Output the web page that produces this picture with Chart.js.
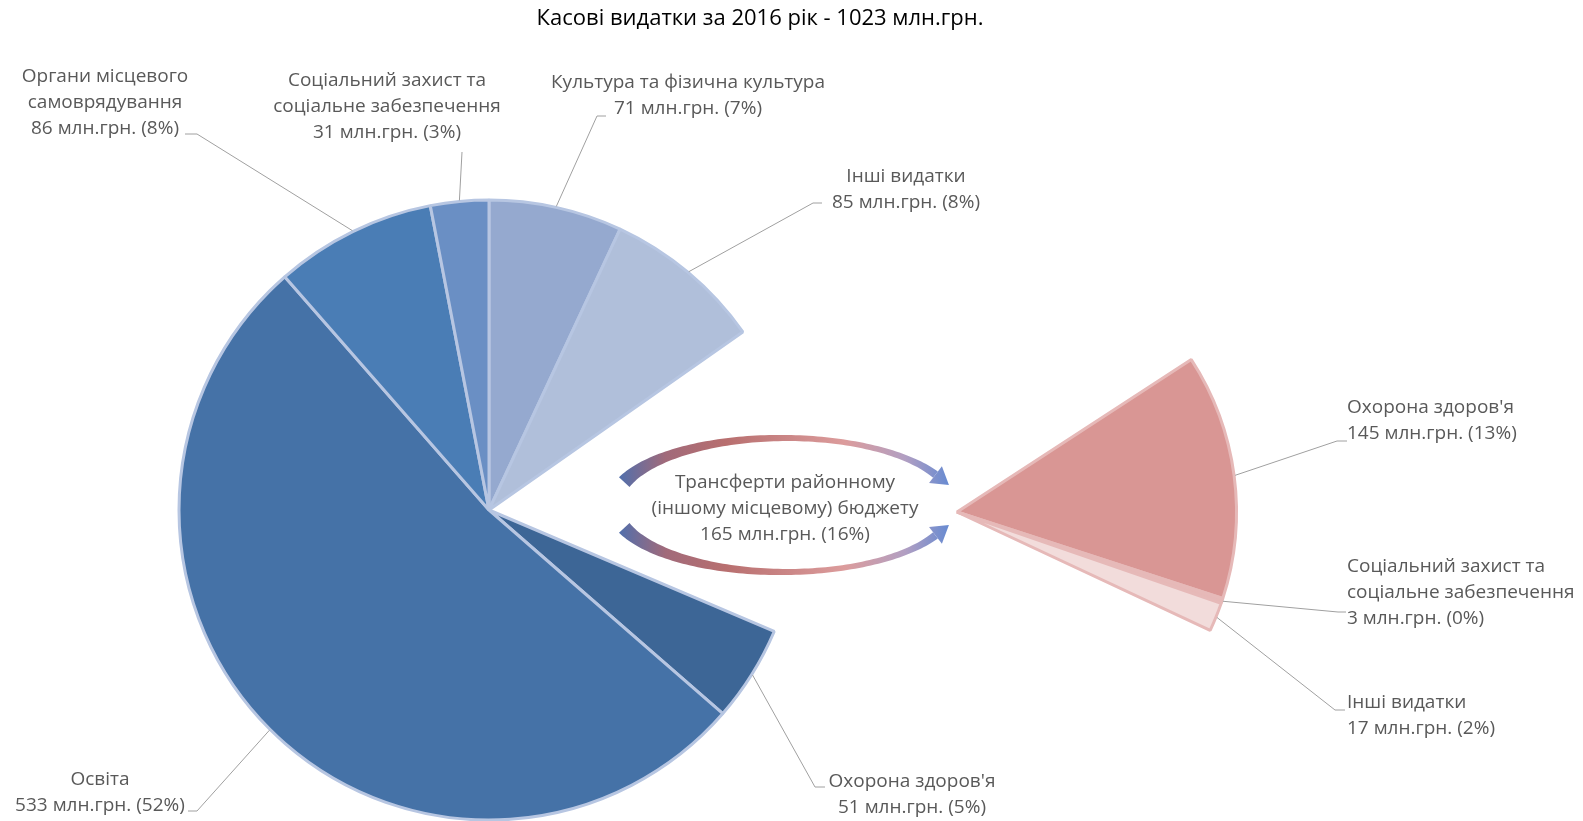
<!DOCTYPE html>
<html>
<head>
<meta charset="utf-8">
<title>Касові видатки за 2016 рік</title>
<script src="https://cdn.jsdelivr.net/npm/chart.js@4.4.0/dist/chart.umd.min.js"></script>
<style>
  html, body { margin: 0; padding: 0; background: #fff; }
  #wrap { position: relative; width: 1583px; height: 821px; }
  #wrap canvas { position: absolute; left: 0; top: 0; }
</style>
</head>
<body>
<div id="wrap">
  <canvas id="mainPie" width="1583" height="821"></canvas>
  <canvas id="transferPie" width="1583" height="821"></canvas>
</div>
<script>
// --- data ---
const chartTitle = 'Касові видатки за 2016 рік - 1023 млн.грн.';

const mainLabels = [
  'Культура та фізична культура',
  'Інші видатки',
  'Трансферти районному\n(іншому місцевому) бюджету',
  "Охорона здоров'я",
  'Освіта',
  'Органи місцевого\nсамоврядування',
  'Соціальний захист та\nсоціальне забезпечення'
];
const mainValues = [71, 85, 165, 51, 533, 86, 31];
const mainPercents = [7, 8, 16, 5, 52, 8, 3];
const transferIndex = 2;

const transferLabels = ["Охорона здоров'я", 'Соціальний захист та\nсоціальне забезпечення', 'Інші видатки'];
const transferValues = [145, 3, 17];
const transferPercents = [13, 0, 2];

// --- styling ---
const FONT = '"Open Sans", "Noto Sans", sans-serif';
const LABEL_SIZE = 19;
const TITLE_SIZE = 22;
const LINE_H = 26;
const mainColors = ['#95a9cf', '#b0bfda', 'rgba(0,0,0,0)', '#3d6696', '#4572a7', '#4a7db5', '#6a8fc4'];
const transferColors = ['#d99694', '#e6b8b7', '#f2dcdb', 'rgba(0,0,0,0)'];

const mainTotal = mainValues.reduce((a, b) => a + b, 0);
const transferStart = mainValues.slice(0, transferIndex).reduce((a, b) => a + b, 0) / mainTotal * 360;

// label placement (text anchor, leader elbow and end)
const mainCallouts = [
  { x: 688, y: 83, align: 'center', elbow: [597, 116], end: [606, 116] },
  { x: 906, y: 177, align: 'center', elbow: [813, 203], end: [822, 203] },
  { x: 785, y: 483, align: 'center' },
  { x: 912, y: 782, align: 'center', elbow: [815, 787], end: [825, 787] },
  { x: 100, y: 780, align: 'center', elbow: [197, 811], end: [188, 811] },
  { x: 105, y: 77, align: 'center', elbow: [197, 134], end: [185, 134] },
  { x: 387, y: 81, align: 'center', end: [462, 152] }
];
const transferCallouts = [
  { x: 1347, y: 408, align: 'left', elbow: [1337, 441], end: [1347, 441] },
  { x: 1347, y: 567, align: 'left', elbow: [1338, 612], end: [1346, 612] },
  { x: 1347, y: 703, align: 'left', elbow: [1335, 710], end: [1345, 710] }
];

function makeCallouts(id, labels, values, percents, placement) {
  return {
    id: id,
    afterDatasetsDraw(chart) {
      const ctx = chart.ctx;
      const meta = chart.getDatasetMeta(0);
      ctx.save();
      ctx.font = LABEL_SIZE + 'px ' + FONT;
      ctx.fillStyle = '#595959';
      ctx.strokeStyle = '#a0a0a0';
      ctx.lineWidth = 1;
      ctx.textBaseline = 'middle';
      placement.forEach((pl, i) => {
        const lines = labels[i].split('\n').concat(values[i] + ' млн.грн. (' + percents[i] + '%)');
        ctx.textAlign = pl.align;
        lines.forEach((s, k) => ctx.fillText(s, pl.x, pl.y + k * LINE_H));
        if (!pl.end) return;
        const p = meta.data[i].getProps(['x', 'y', 'startAngle', 'endAngle', 'outerRadius'], true);
        const mid = (p.startAngle + p.endAngle) / 2;
        const r = p.outerRadius + 1;
        ctx.beginPath();
        ctx.moveTo(p.x + Math.cos(mid) * r, p.y + Math.sin(mid) * r);
        if (pl.elbow) ctx.lineTo(pl.elbow[0], pl.elbow[1]);
        ctx.lineTo(pl.end[0], pl.end[1]);
        ctx.stroke();
      });
      ctx.restore();
    }
  };
}

// curved arrows around the transfer caption
function curvedArrow(ctx, cx, cy, rx, ry, a0, a1, fill) {
  const N = 90, outer = [], inner = [];
  const dir = a1 > a0 ? 1 : -1;
  for (let i = 0; i <= N; i++) {
    const t = i / N;
    const th = a0 + (a1 - a0) * t;
    const w = 2.8 + 11.5 * Math.pow(1 - t, 2) + 5 * Math.pow(t, 3);
    const px = cx + rx * Math.cos(th), py = cy + ry * Math.sin(th);
    let nx = ry * Math.cos(th), ny = rx * Math.sin(th);
    const nl = Math.hypot(nx, ny); nx /= nl; ny /= nl;
    outer.push([px + nx * w / 2, py + ny * w / 2]);
    inner.push([px - nx * w / 2, py - ny * w / 2]);
  }
  ctx.beginPath();
  outer.forEach((p, i) => i ? ctx.lineTo(p[0], p[1]) : ctx.moveTo(p[0], p[1]));
  inner.reverse().forEach(p => ctx.lineTo(p[0], p[1]));
  ctx.closePath();
  ctx.fillStyle = fill;
  ctx.fill();
  // head
  const ex = cx + rx * Math.cos(a1), ey = cy + ry * Math.sin(a1);
  let tx = -rx * Math.sin(a1) * dir, ty = ry * Math.cos(a1) * dir;
  const tl = Math.hypot(tx, ty); tx /= tl; ty /= tl;
  const nx = -ty, ny = tx;
  ctx.beginPath();
  ctx.moveTo(ex + tx * 17, ey + ty * 17);
  ctx.lineTo(ex + nx * 10.5, ey + ny * 10.5);
  ctx.lineTo(ex - nx * 10.5, ey - ny * 10.5);
  ctx.closePath();
  ctx.fill();
}

const decorPlugin = {
  id: 'decor',
  afterDraw(chart) {
    const ctx = chart.ctx;
    ctx.save();
    ctx.font = TITLE_SIZE + 'px ' + FONT;
    ctx.fillStyle = '#000';
    ctx.textAlign = 'center';
    ctx.textBaseline = 'middle';
    ctx.fillText(chartTitle, 760, 19);

    const g = ctx.createLinearGradient(615, 0, 952, 0);
    g.addColorStop(0, '#4a6fb0');
    g.addColorStop(0.15, '#a16a7a');
    g.addColorStop(0.33, '#b86f6f');
    g.addColorStop(0.68, '#dc9c9c');
    g.addColorStop(0.86, '#b29fc2');
    g.addColorStop(1, '#6289d2');
    const D = Math.PI / 180;
    curvedArrow(ctx, 784, 505, 170, 67, -160 * D, -27 * D, g);
    curvedArrow(ctx, 784, 505, 170, 67, 160 * D, 27 * D, g);
    ctx.restore();
  }
};

const common = {
  responsive: false,
  animation: false,
  devicePixelRatio: 1,
  events: [],
  plugins: { legend: { display: false }, tooltip: { enabled: false }, title: { display: false } }
};

new Chart(document.getElementById('mainPie'), {
  type: 'pie',
  data: {
    labels: mainLabels,
    datasets: [{
      data: mainValues,
      backgroundColor: mainColors,
      borderColor: mainLabels.map((_, i) => i === transferIndex ? 'rgba(0,0,0,0)' : '#b7c6e2'),
      borderWidth: mainLabels.map((_, i) => i === transferIndex ? 0 : 3),
      clip: false
    }]
  },
  options: Object.assign({}, common, {
    radius: 310,
    rotation: 0,
    layout: { padding: { left: 0, right: 605, top: 199, bottom: 0 } }
  }),
  plugins: [makeCallouts('mainCallouts', mainLabels, mainValues, mainPercents, mainCallouts), decorPlugin]
});

new Chart(document.getElementById('transferPie'), {
  type: 'pie',
  data: {
    labels: transferLabels.concat(''),
    datasets: [{
      data: transferValues.concat(mainTotal - mainValues[transferIndex]),
      backgroundColor: transferColors,
      borderColor: ['#e6b9b8', '#e6b9b8', '#e6b9b8', 'rgba(0,0,0,0)'],
      borderWidth: [3, 3, 3, 0],
      clip: false
    }]
  },
  options: Object.assign({}, common, {
    radius: 279.5,
    // the exploded piece sits about 2 degrees further round than the gap it came from
    rotation: transferStart + 2,
    layout: { padding: { left: 331, right: 0, top: 203, bottom: 0 } }
  }),
  plugins: [makeCallouts('transferCallouts', transferLabels, transferValues, transferPercents, transferCallouts)]
});
</script>
</body>
</html>
